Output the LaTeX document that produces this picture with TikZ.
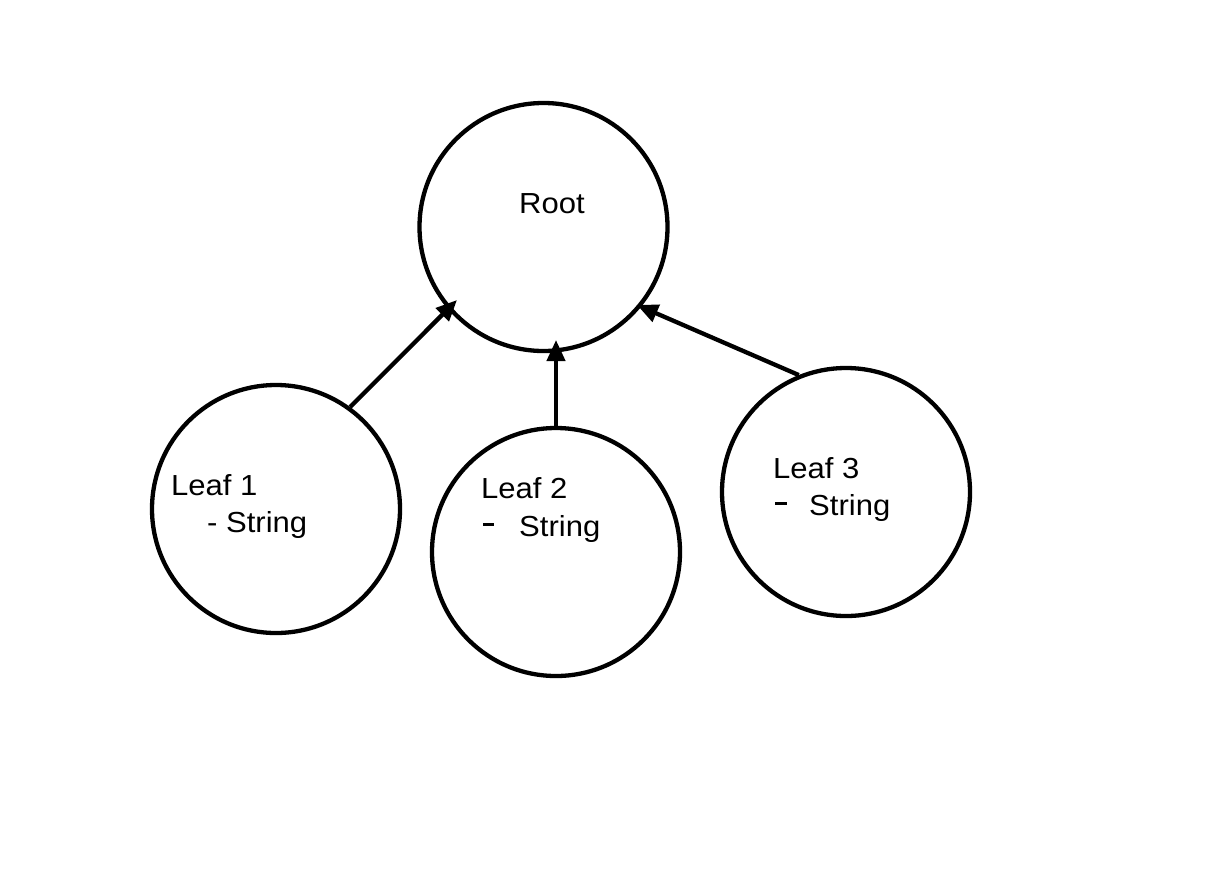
\documentclass[tikz,border=0pt]{standalone}
\usepackage{fontspec}
\setmainfont[FakeStretch=1.07]{Liberation Sans}
\usetikzlibrary{arrows.meta}
\begin{document}
\begin{tikzpicture}[x=1pt,y=-1pt,
  bubble/.style={circle,draw=black,line width=4.3pt,minimum size=248pt,inner sep=0pt,fill=white},
  lbl/.style={anchor=base west,inner sep=0pt,font=\fontsize{29}{35}\selectfont},
  arr/.style={line width=4.3pt,-{Triangle[length=21pt,width=18pt]}}]
\useasboundingbox[fill=white] (0,0) rectangle (1228,892);
\node[bubble] (root) at (543.5,227) {};
\node[bubble] (l1) at (276,509) {};
\node[bubble] (l2) at (556,552) {};
\node[bubble] (l3) at (846,492) {};
\node[lbl] (troot) at (519,213) {Root};
\node[lbl] (t1a) at (171,495) {Leaf 1};
\node[lbl] (t1b) at (207,532) {- String};
\node[lbl] (t2a) at (481,498) {Leaf 2};
\node[lbl] (t2b) at (483,536) {\makebox[36pt][l]{\rule[10pt]{11pt}{3pt}}String};
\node[lbl] (t3a) at (773,478) {Leaf 3};
\node[lbl] (t3b) at (775,515) {\makebox[34pt][l]{\rule[10pt]{12pt}{3pt}}String};
\coordinate (e1) at (457,300);
\coordinate (e2) at (556,340);
\coordinate (e3) at (637,305);
\draw[arr] (l1.54) -- (e1);
\draw[arr] (l2.north) -- (e2);
\draw[arr] (l3.112) -- (e3);
\end{tikzpicture}
\end{document}
